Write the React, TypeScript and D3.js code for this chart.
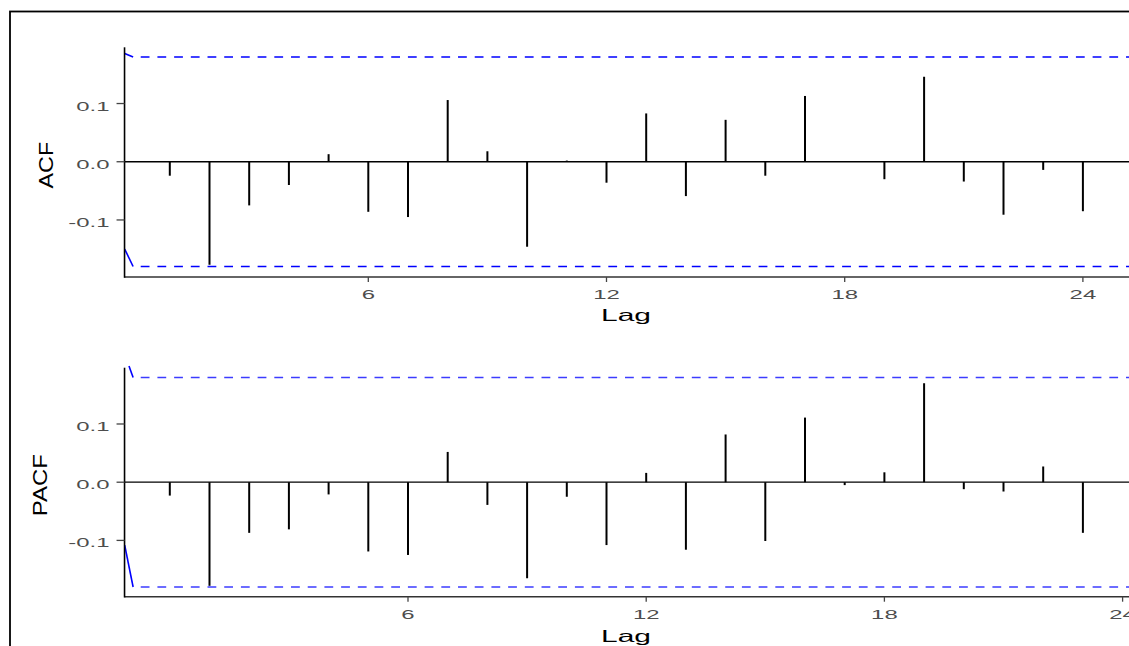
import React from "react";
import * as d3 from "d3";

// ---- data ----
const acfLags = [1, 2, 3, 4, 5, 6, 7, 8, 9, 10, 11, 12, 13, 14, 15, 16, 17, 18, 19, 20, 21, 22, 23, 24];
const acfValues = [-0.024, -0.177, -0.075, -0.04, 0.013, -0.086, -0.095, 0.106, 0.018, -0.146, 0.002, -0.036,
  0.083, -0.059, 0.072, -0.024, 0.113, 0.001, -0.03, 0.146, -0.034, -0.091, -0.014, -0.085];

const pacfLags = [0, 1, 2, 3, 4, 5, 6, 7, 8, 9, 10, 11, 12, 13, 14, 15, 16, 17, 18, 19, 20, 21, 22, 23];
const pacfValues = [-0.023, -0.178, -0.087, -0.081, -0.021, -0.119, -0.125, 0.052, -0.039, -0.165, -0.025, -0.108,
  0.016, -0.116, 0.082, -0.101, 0.111, -0.005, 0.017, 0.17, -0.012, -0.016, 0.027, -0.087];

const ciLimit = 0.18;
// solid start of the confidence lines (lag, value)
const acfUpperStart = [[-0.136, 0.186], [0.076, 0.18]];
const acfLowerStart = [[-0.136, -0.15], [0.076, -0.18]];
const pacfUpperStart = [[-1.028, 0.1997], [-0.924, 0.18]];
const pacfLowerStart = [[-1.136, -0.108], [-0.924, -0.18]];

const xTicks = [6, 12, 18, 24];
const yTicks = [-0.1, 0.0, 0.1];
const yTickLabels = ["-0.1", "0.0", "0.1"];

const FONT = "'Liberation Sans', Arial, Helvetica, sans-serif";
const SX = 1.84;

type PanelProps = {
  lags: number[];
  values: number[];
  x: d3.ScaleLinear<number, number>;
  y: d3.ScaleLinear<number, number>;
  upperStart: number[][];
  lowerStart: number[][];
  dashStart: number;
  title: string;
  titleX: number;
  titleLen: number;
  lagBaseline: number;
  dashColor: string;
};

function Panel(p: PanelProps) {
  const { x, y } = p;
  const [x0, x1] = x.range();
  const [yb, yt] = y.range();
  const line = d3.line<number[]>().x((d) => x(d[0])).y((d) => y(d[1]));
  const yZero = y(0);
  const titleMid = (yb + yt) / 2 + 3;
  return (
    <g>
      {/* zero line */}
      <line x1={x0} x2={x1} y1={yZero} y2={yZero} stroke="#000" strokeWidth={1.3} />
      {/* stems */}
      {p.lags.map((l, i) => (
        <line key={i} x1={x(l)} x2={x(l)} y1={yZero} y2={y(p.values[i])} stroke="#000" strokeWidth={2} />
      ))}
      {/* confidence lines */}
      <path d={line(p.upperStart) || ""} fill="none" stroke="#0000ff" strokeWidth={1.6} />
      <path d={line(p.lowerStart) || ""} fill="none" stroke="#0000ff" strokeWidth={1.6} />
      <line x1={x(p.dashStart)} x2={x1} y1={y(ciLimit)} y2={y(ciLimit)} stroke={p.dashColor}
        strokeWidth={1.5} strokeDasharray="8.8 7.9" strokeDashoffset={9.1} />
      <line x1={x(p.dashStart)} x2={x1} y1={y(-ciLimit)} y2={y(-ciLimit)} stroke={p.dashColor}
        strokeWidth={1.5} strokeDasharray="8.8 7.9" strokeDashoffset={9.1} />
      {/* axes */}
      <line x1={x0} x2={x1} y1={yb} y2={yb} stroke="#333" strokeWidth={1.6} />
      <line x1={x0} x2={x0} y1={yt} y2={yb + 0.8} stroke="#000" strokeWidth={1.6} />
      {xTicks.map((t) => (
        <g key={t}>
          <line x1={x(t)} x2={x(t)} y1={yb} y2={yb + 5} stroke="#444" strokeWidth={1.3} />
          <text transform={`translate(${x(t)},${yb + 22}) scale(${SX},1)`} textAnchor="middle"
            fontSize={13} fill="#4d4d4d" fontFamily={FONT}>{t}</text>
        </g>
      ))}
      {yTicks.map((t, i) => (
        <g key={t}>
          <line x1={x0 - 8} x2={x0} y1={y(t)} y2={y(t)} stroke="#444" strokeWidth={1.3} />
          <text transform={`translate(${x0 - 15},${y(t) + 7}) scale(${SX},1)`} textAnchor="end"
            fontSize={13} fill="#4d4d4d" fontFamily={FONT}>{yTickLabels[i]}</text>
        </g>
      ))}
      <text transform={`translate(626,${p.lagBaseline}) scale(${SX},1)`} textAnchor="middle"
        fontSize={16.3} fill="#000" fontFamily={FONT}>Lag</text>
      <text transform={`translate(${p.titleX},${titleMid}) rotate(-90) scale(1,0.9)`} textAnchor="middle"
        fontSize={23.3} fill="#000" fontFamily={FONT} textLength={p.titleLen} lengthAdjust="spacingAndGlyphs">{p.title}</text>
    </g>
  );
}

export default function App() {
  const W = 1129;
  const H = 646;
  const xTop = d3.scaleLinear().domain([-0.14, 25.5]).range([124.54, 1142.45]);
  const yTop = d3.scaleLinear().domain([-0.198, 0.1966]).range([277, 47.3]);
  const xBot = d3.scaleLinear().domain([-1.14, 24.5]).range([124.54, 1142.45]);
  const yBot = d3.scaleLinear().domain([-0.1967, 0.1967]).range([596.7, 367.7]);
  return (
    <svg width={W} height={H} style={{ position: "absolute", left: 0, top: 0, background: "#fff" }}>
      <rect x={0} y={0} width={W} height={H} fill="#fff" />
      <rect x={10} y={11.5} width={1300} height={800} fill="none" stroke="#000" strokeWidth={1.8} />
      <Panel lags={acfLags} values={acfValues} x={xTop} y={yTop} upperStart={acfUpperStart}
        lowerStart={acfLowerStart} dashStart={0.076} title="ACF" titleX={53} titleLen={46.6}
        lagBaseline={320.5} dashColor="#0000ff" />
      <Panel lags={pacfLags} values={pacfValues} x={xBot} y={yBot} upperStart={pacfUpperStart}
        lowerStart={pacfLowerStart} dashStart={-0.924} title="PACF" titleX={46.5} titleLen={62}
        lagBaseline={641.5} dashColor="#3c3cff" />
    </svg>
  );
}
